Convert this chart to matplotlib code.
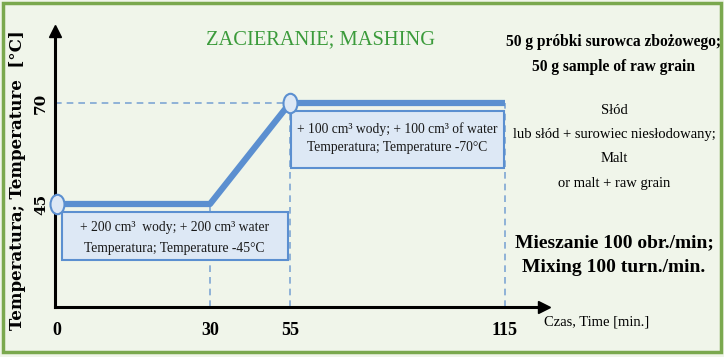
import numpy as np
import matplotlib
matplotlib.use("Agg")
import matplotlib.pyplot as plt
from matplotlib.patches import Rectangle
from matplotlib.path import Path
from matplotlib.transforms import Affine2D

# mashing temperature programme
time_min = [0, 30, 55, 115]
temp_c = [45, 45, 70, 70]
x_ticks = [0, 30, 55, 115]
y_ticks = [45, 70]
marker_t = [0, 55]
marker_temp = [45, 70]

title = "ZACIERANIE; MASHING"
box1_lines = ["+ 200 cm³  wody; + 200 cm³ water",
              "Temperatura; Temperature -45°C"]
box2_lines = ["+ 100 cm³ wody; + 100 cm³ of water",
              "Temperatura; Temperature -70°C"]
sample_lines = ["50 g próbki surowca zbożowego;", "50 g sample of raw grain"]
malt_lines = ["Słód", "lub słód + surowiec niesłodowany;", "Malt",
              "or malt + raw grain"]
mixing_lines = ["Mieszanie 100 obr./min;", "Mixing 100 turn./min."]

SERIF = ["Liberation Serif", "DejaVu Serif"]
BLUE = "#5b8fd0"
DASH = "#7fa6d4"
FILL = "#dde8f5"
W, H = 724, 357

# schematic (non-uniform) time axis
_t = np.array([-20, 0, 30, 55, 115, 160])
_p = np.array([57 - 102, 57, 210, 290, 505, 505 + 162])


def fwd(t):
    return np.interp(t, _t, _p)


def inv(p):
    return np.interp(p, _p, _t)


def fx(px):
    return px / W


def fy(py):
    return 1 - py / H


fig = plt.figure(figsize=(W / 100, H / 100), dpi=100, facecolor="#f0f5ea")
fig.patches.append(Rectangle((fx(3), fy(352)), fx(718), 349 / H,
                             transform=fig.transFigure, fill=False,
                             edgecolor="#7aa84e", linewidth=2.5))

ax = fig.add_axes([fx(55), fy(307), fx(544 - 55), (307 - 31) / H])
ax.set_facecolor("none")
ax.set_xscale("function", functions=(fwd, inv))
ax.set_xlim(inv(55), inv(544))
ax.set_ylim(45 - 103 / 4.04, 70 + 72 / 4.04)

for s in ["top", "right"]:
    ax.spines[s].set_visible(False)
for s in ["left", "bottom"]:
    ax.spines[s].set_linewidth(2.2)
    ax.spines[s].set_color("black")
ax.plot(1, 0, ">k", ms=8, transform=ax.transAxes, clip_on=False)
ax.plot(0, 1, "^k", ms=8, transform=ax.transAxes, clip_on=False)

# guide lines
ax.plot([ax.get_xlim()[0], time_min[2]], [temp_c[2]] * 2, ls="--",
        color=DASH, lw=1.2, dashes=(4, 3))
for t, v in zip(time_min[1:], temp_c[1:]):
    ax.plot([t, t], [ax.get_ylim()[0], v], ls="--", color=DASH, lw=1.2,
            dashes=(4, 3))

# boxes
ax.add_patch(Rectangle((1, 31.2), 53.3, 11.8, facecolor=FILL,
                       edgecolor=BLUE, lw=1.5, zorder=3))
ax.add_patch(Rectangle((55.2, 53.9), 59.6, 14.0, facecolor=FILL,
                       edgecolor=BLUE, lw=1.5, zorder=3))
box_kw = dict(ha="center", va="center", fontsize=9.8, family=SERIF,
              zorder=4, color="#1a1a1a")
ax.text(23.0, 39.3, box1_lines[0], **box_kw)
ax.text(23.0, 34.1, box1_lines[1], **box_kw)
ax.text(85, 63.6, box2_lines[0], **box_kw)
ax.text(85, 58.9, box2_lines[1], **box_kw)

# temperature profile
ax.plot(time_min, temp_c, color=BLUE, lw=4.5, solid_capstyle="butt",
        zorder=5)
oval = Path.unit_circle().transformed(Affine2D().scale(0.72, 1.0))
ax.plot(marker_t, marker_temp, ls="none", marker=oval, ms=14, mfc=FILL,
        mec=BLUE, mew=1.5, zorder=6, clip_on=False)

ax.set_xticks(x_ticks)
ax.set_xticklabels([str(v) for v in x_ticks], family=SERIF, fontsize=13,
                   fontweight="bold")
ax.set_yticks(y_ticks)
ax.set_yticklabels([str(v) for v in y_ticks], family="DejaVu Serif",
                   fontsize=11, fontweight="bold", rotation=90, va="center")
ax.tick_params(length=0, pad=5)
ax.tick_params(axis="x", pad=11)

fig.text(fx(18), fy(180), "Temperatura; Temperature  [°C]", rotation=90,
         ha="center", va="center", family="DejaVu Serif", fontsize=12,
         fontweight="bold")
fig.text(fx(597), fy(322), "Czas, Time [min.]", ha="center", va="center",
         family=SERIF, fontsize=10.5)

fig.text(fx(321), fy(40), title, ha="center", va="center", family=SERIF,
         fontsize=14.8, color="#3b9b3b")
for i, s in enumerate(sample_lines):
    fig.text(fx(614), fy(42 + 25 * i), s, ha="center", va="center",
             family=SERIF, fontsize=11.2, fontweight="bold")
for i, s in enumerate(malt_lines):
    fig.text(fx(614), fy(110 + 24.5 * i), s, ha="center", va="center",
             family=SERIF, fontsize=10.5)
for i, s in enumerate(mixing_lines):
    fig.text(fx(614), fy(243 + 25 * i), s, ha="center", va="center",
             family=SERIF, fontsize=14, fontweight="bold")

fig.savefig("out.png", dpi=100, facecolor=fig.get_facecolor())
